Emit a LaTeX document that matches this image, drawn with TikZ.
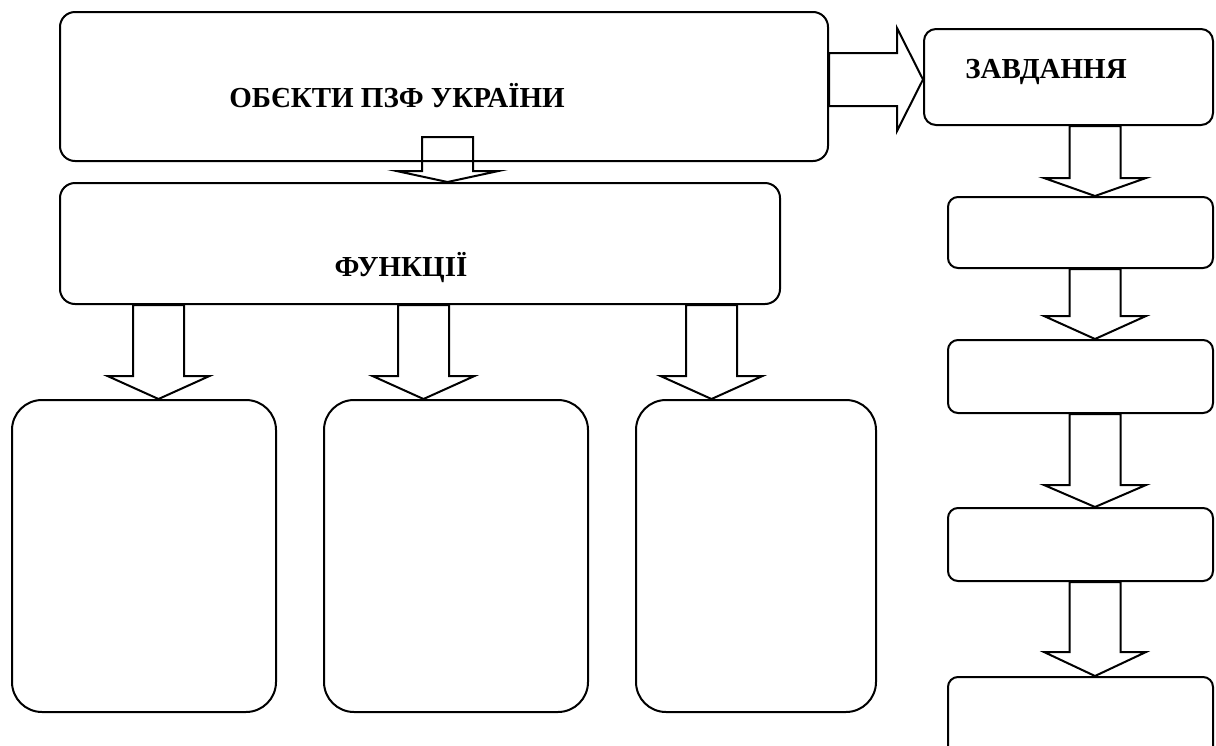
\documentclass[tikz,border=0pt]{standalone}
\usepackage{fontspec}
\setmainfont{Liberation Serif}
\usetikzlibrary{calc}

% block arrow pointing down: x, from node, to node, head length, shaft start shift
\newcommand{\blkdown}[5]{%
  \draw[edgearr] let \p1=(#2.south), \p2=(#3.north) in
    (#1pt-25.5pt,\y1+#5pt) -- (#1pt+25.5pt,\y1+#5pt) -- (#1pt+25.5pt,\y2+#4pt)
    -- (#1pt+51pt,\y2+#4pt) -- (#1pt,\y2) -- (#1pt-51pt,\y2+#4pt)
    -- (#1pt-25.5pt,\y2+#4pt) -- cycle;}

\begin{document}
\begin{tikzpicture}[
        x=1pt, y=-1pt,
        line width=2pt,
        font=\fontsize{29}{34}\selectfont\bfseries
    ]
    \tikzset{
        boxw/.style = {rectangle, draw=black, inner sep=0pt, rounded corners=15pt},
        boxf/.style = {rectangle, draw=black, inner sep=0pt, rounded corners=30pt,
                       minimum height=312pt},
        boxt/.style = {rectangle, draw=black, inner sep=0pt, rounded corners=10pt,
                       minimum width=265pt},
        lbl/.style = {anchor=base, inner sep=0pt},
        edgearr/.style = {line width=2pt, line join=miter},
    }
    \clip (0,0) rectangle (1216,745);
    %
    \node[boxw, minimum width=768pt, minimum height=149pt] at (444,86.5) (objects) {};
    \node[boxw, minimum width=720pt, minimum height=121pt] at (420,243.5) (functions) {};
    \node[boxt, minimum width=289pt, minimum height=96pt, rounded corners=12pt] at (1068.5,77) (tasks) {};
    %
    \node[lbl] at (397,107) (objtext) {ОБЄКТИ ПЗФ УКРАЇНИ};
    \node[lbl] at (401,276) (funtext) {ФУНКЦІЇ};
    \node[lbl] at (1046,78) (tasktext) {ЗАВДАННЯ};
    %
    \node[boxf, minimum width=264pt] at (144,556) (fa) {};
    \node[boxf, minimum width=264pt] at (456,556) (fb) {};
    \node[boxf, minimum width=240pt] at (756,556) (fc) {};
    %
    \node[boxt, minimum height=71pt] at (1080.5,232.5) (ta) {};
    \node[boxt, minimum height=73pt] at (1080.5,376.5) (tb) {};
    \node[boxt, minimum height=73pt] at (1080.5,544.5) (tc) {};
    \node[boxt, minimum height=90pt] at (1080.5,722) (td) {};
    %
    \blkdown{447.5}{objects}{functions}{11}{25}
    \blkdown{158.5}{functions}{fa}{23}{0}
    \blkdown{423.5}{functions}{fb}{23}{0}
    \blkdown{711.5}{functions}{fc}{23}{0}
    %
    \blkdown{1095}{tasks}{ta}{18}{0}
    \blkdown{1095}{ta}{tb}{23}{0}
    \blkdown{1095}{tb}{tc}{22}{0}
    \blkdown{1095}{tc}{td}{24}{0}
    %
    \draw[edgearr] let \p1=(objects.east), \p2=(tasks.west) in
        (\x1,-53pt) -- (\x2-26pt,-53pt) -- (\x2-26pt,-28pt) -- (\x2,-79.5pt)
        -- (\x2-26pt,-131pt) -- (\x2-26pt,-106pt) -- (\x1,-106pt) -- cycle;
\end{tikzpicture}
\end{document}
